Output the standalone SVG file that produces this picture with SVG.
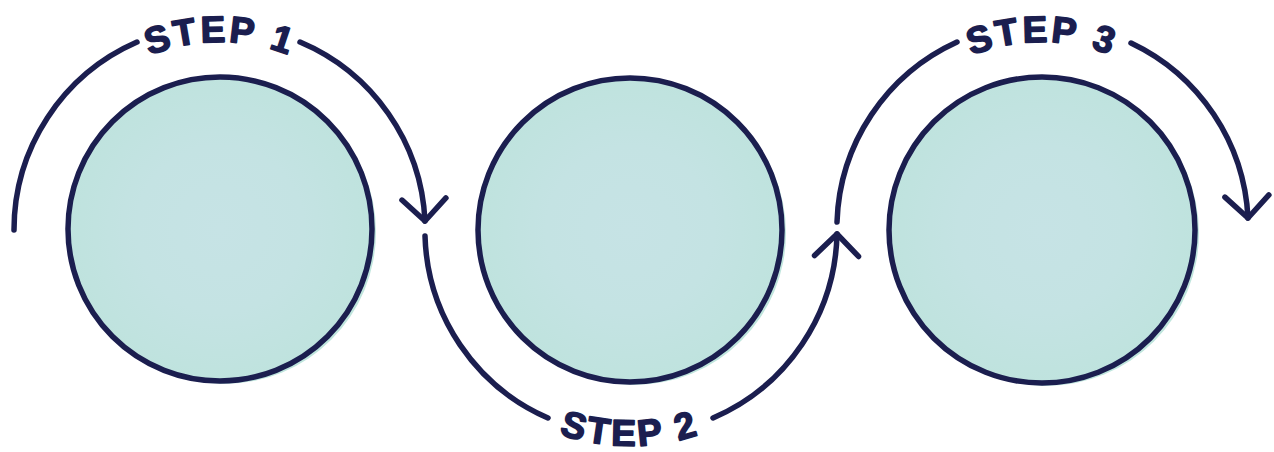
<svg xmlns="http://www.w3.org/2000/svg" width="1274" height="452" viewBox="0 0 1274 452">
  <style>
    .shadow { fill: #bfe5dd; }
    .disc { fill: url(#tealGrad); stroke: #1b1e4f; stroke-width: 5.5; }
    .conn { fill: none; stroke: #1b1e4f; stroke-width: 5.5; stroke-linecap: round; }
    .label { font-family: "Liberation Sans", "DejaVu Sans", sans-serif; font-weight: bold; font-size: 37px; letter-spacing: 3px; fill: #1b1e4f; stroke: #1b1e4f; stroke-width: 1.6; stroke-linejoin: round; }
    .guide { fill: none; stroke: none; }
  </style>
  <defs>
    <radialGradient id="tealGrad" cx="0.5" cy="0.5" r="0.5">
      <stop offset="0" stop-color="#c6e3e5"/>
      <stop offset="0.55" stop-color="#c4e3e3"/>
      <stop offset="1" stop-color="#bfe3de"/>
    </radialGradient>
    <marker id="chev" markerUnits="userSpaceOnUse" markerWidth="60" markerHeight="60" refX="30" refY="30" orient="auto" viewBox="0 0 60 60">
      <path d="M 8,8 L 30,30 L 8,52" fill="none" stroke="#1b1e4f" stroke-width="5.5" stroke-linecap="round" stroke-linejoin="round"/>
    </marker>
    <path id="t1" class="guide" d="M 32,230 A 188 188 0 0 1 408,230"/>
    <path id="t2" class="guide" d="M 414,230 A 216 216 0 0 0 846,230"/>
    <path id="t3" class="guide" d="M 854,230 A 188 188 0 0 1 1230,230"/>
  </defs>

  <g id="node1">
    <circle class="shadow" cx="224" cy="232" r="152"/>
    <circle class="disc" cx="220" cy="229" r="152"/>
  </g>
  <g id="node2">
    <circle class="shadow" cx="634" cy="233" r="152"/>
    <circle class="disc" cx="630" cy="230" r="152"/>
  </g>
  <g id="node3">
    <circle class="shadow" cx="1046" cy="233" r="153"/>
    <circle class="disc" cx="1042" cy="230" r="153"/>
  </g>

  <g id="connectors">
    <path class="conn" d="M 14,230 A 205 205 0 0 1 137,42"/>
    <path class="conn" d="M 300,42 A 205 205 0 0 1 425,221" marker-end="url(#chev)"/>
    <path class="conn" d="M 425,236 A 205 205 0 0 0 548,418"/>
    <path class="conn" d="M 713,418 A 205 205 0 0 0 837,234" marker-end="url(#chev)"/>
    <path class="conn" d="M 837,222 A 205 205 0 0 1 957,42"/>
    <path class="conn" d="M 1131,43 A 205 205 0 0 1 1248,218" marker-end="url(#chev)"/>
  </g>

  <g id="labels">
    <text class="label"><textPath href="#t1" startOffset="50%" text-anchor="middle">STEP 1</textPath></text>
    <text class="label"><textPath href="#t2" startOffset="50%" text-anchor="middle">STEP 2</textPath></text>
    <text class="label"><textPath href="#t3" startOffset="50%" text-anchor="middle">STEP 3</textPath></text>
  </g>
</svg>
